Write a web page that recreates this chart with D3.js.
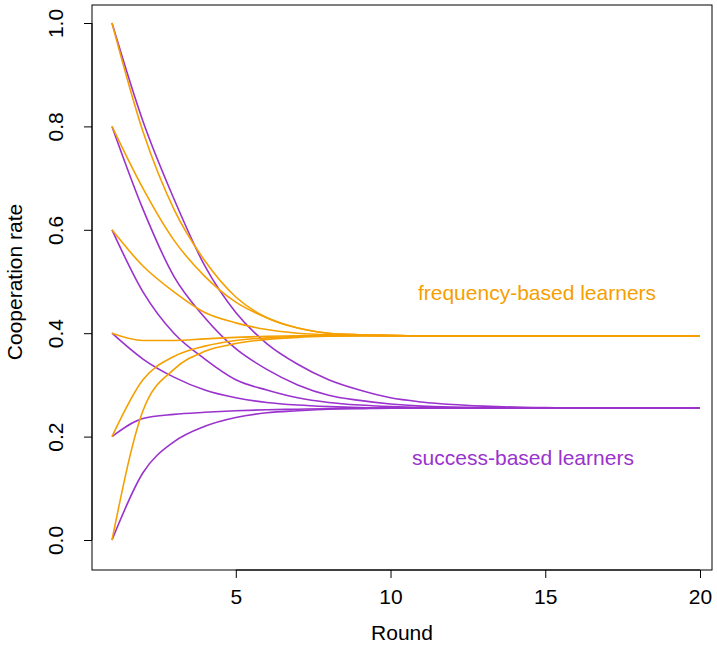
<!DOCTYPE html>
<html><head><meta charset="utf-8">
<script src="https://d3js.org/d3.v7.min.js"></script>
<style>body{margin:0;background:#fff}</style></head>
<body><svg id="c" width="717" height="646"></svg>
<script>
const rounds = d3.range(1, 21);
const freqSeries = [
 [1.0,0.79,0.64,0.54,0.47,0.43,0.41,0.40,0.397,0.396,0.395,0.395,0.395,0.395,0.395,0.395,0.395,0.395,0.395,0.395],
 [0.8,0.68,0.58,0.51,0.46,0.43,0.41,0.40,0.397,0.396,0.395,0.395,0.395,0.395,0.395,0.395,0.395,0.395,0.395,0.395],
 [0.6,0.53,0.48,0.44,0.42,0.407,0.40,0.397,0.396,0.395,0.395,0.395,0.395,0.395,0.395,0.395,0.395,0.395,0.395,0.395],
 [0.4,0.386,0.386,0.389,0.392,0.394,0.395,0.395,0.395,0.395,0.395,0.395,0.395,0.395,0.395,0.395,0.395,0.395,0.395,0.395],
 [0.2,0.31,0.355,0.375,0.386,0.391,0.394,0.395,0.395,0.395,0.395,0.395,0.395,0.395,0.395,0.395,0.395,0.395,0.395,0.395],
 [0.0,0.25,0.33,0.365,0.38,0.388,0.392,0.394,0.395,0.395,0.395,0.395,0.395,0.395,0.395,0.395,0.395,0.395,0.395,0.395]
];
const succSeries = [
 [1.0,0.81,0.66,0.53,0.44,0.38,0.34,0.31,0.29,0.275,0.267,0.262,0.259,0.257,0.256,0.255,0.255,0.255,0.255,0.255],
 [0.8,0.64,0.51,0.43,0.37,0.33,0.30,0.28,0.27,0.263,0.259,0.257,0.256,0.255,0.255,0.255,0.255,0.255,0.255,0.255],
 [0.6,0.48,0.40,0.35,0.31,0.29,0.275,0.266,0.261,0.258,0.256,0.255,0.255,0.255,0.255,0.255,0.255,0.255,0.255,0.255],
 [0.4,0.35,0.315,0.29,0.275,0.266,0.261,0.258,0.256,0.255,0.255,0.255,0.255,0.255,0.255,0.255,0.255,0.255,0.255,0.255],
 [0.2,0.235,0.243,0.247,0.25,0.252,0.253,0.254,0.255,0.255,0.255,0.255,0.255,0.255,0.255,0.255,0.255,0.255,0.255,0.255],
 [0.0,0.13,0.19,0.22,0.237,0.246,0.25,0.253,0.254,0.255,0.255,0.255,0.255,0.255,0.255,0.255,0.255,0.255,0.255,0.255]
];
const xTicks = [5,10,15,20];
const yTicks = [0,0.2,0.4,0.6,0.8,1.0];
const ORANGE = "#F5A000", PURPLE = "#9A32CD";

const svg = d3.select("#c");
const x = d3.scaleLinear().domain([1,20]).range([112,700]);
const y = d3.scaleLinear().domain([0,1]).range([540,23]);
const font = "Liberation Sans, Arial, sans-serif";

svg.append("rect").attr("x",92).attr("y",5).attr("width",620).attr("height",565)
  .attr("fill","none").attr("stroke","#000").attr("stroke-width",1);

const line = d3.line().x((d,i)=>x(rounds[i])).y(d=>y(d)).curve(d3.curveMonotoneX);
succSeries.forEach(s=>svg.append("path").attr("d",line(s)).attr("fill","none").attr("stroke",PURPLE).attr("stroke-width",1.6));
freqSeries.forEach(s=>svg.append("path").attr("d",line(s)).attr("fill","none").attr("stroke",ORANGE).attr("stroke-width",1.6));

const xa = svg.append("g").attr("transform","translate(0,570)")
  .call(d3.axisBottom(x).tickValues(xTicks).tickSize(8).tickFormat(d3.format("d")));
xa.select(".domain").attr("d","M"+x(5)+",0H"+x(20));
xa.selectAll("text").attr("font-size",21).attr("font-family",font).attr("dy","1.1em");
const ya = svg.append("g").attr("transform","translate(92,0)")
  .call(d3.axisLeft(y).tickValues(yTicks).tickSize(8).tickFormat(d3.format(".1f")));
ya.select(".domain").attr("d","M0,"+y(0)+"V"+y(1));
ya.selectAll(".tick text").each(function(){
  d3.select(this).attr("font-size",21).attr("font-family",font).attr("text-anchor","middle")
   .attr("x",0).attr("y",0).attr("dy","0.35em")
   .attr("transform","translate(-36,0) rotate(-90)");
});
svg.append("text").attr("x",402).attr("y",640).attr("text-anchor","middle")
  .attr("font-size",21).attr("font-family",font).text("Round");
svg.append("text").attr("transform","translate(22,282) rotate(-90)").attr("text-anchor","middle")
  .attr("font-size",21).attr("font-family",font).text("Cooperation rate");
svg.append("text").attr("x",537).attr("y",300).attr("text-anchor","middle")
  .attr("font-size",21).attr("font-family",font).attr("fill",ORANGE).text("frequency-based learners");
svg.append("text").attr("x",523).attr("y",465).attr("text-anchor","middle")
  .attr("font-size",21).attr("font-family",font).attr("fill",PURPLE).text("success-based learners");
</script></body></html>
